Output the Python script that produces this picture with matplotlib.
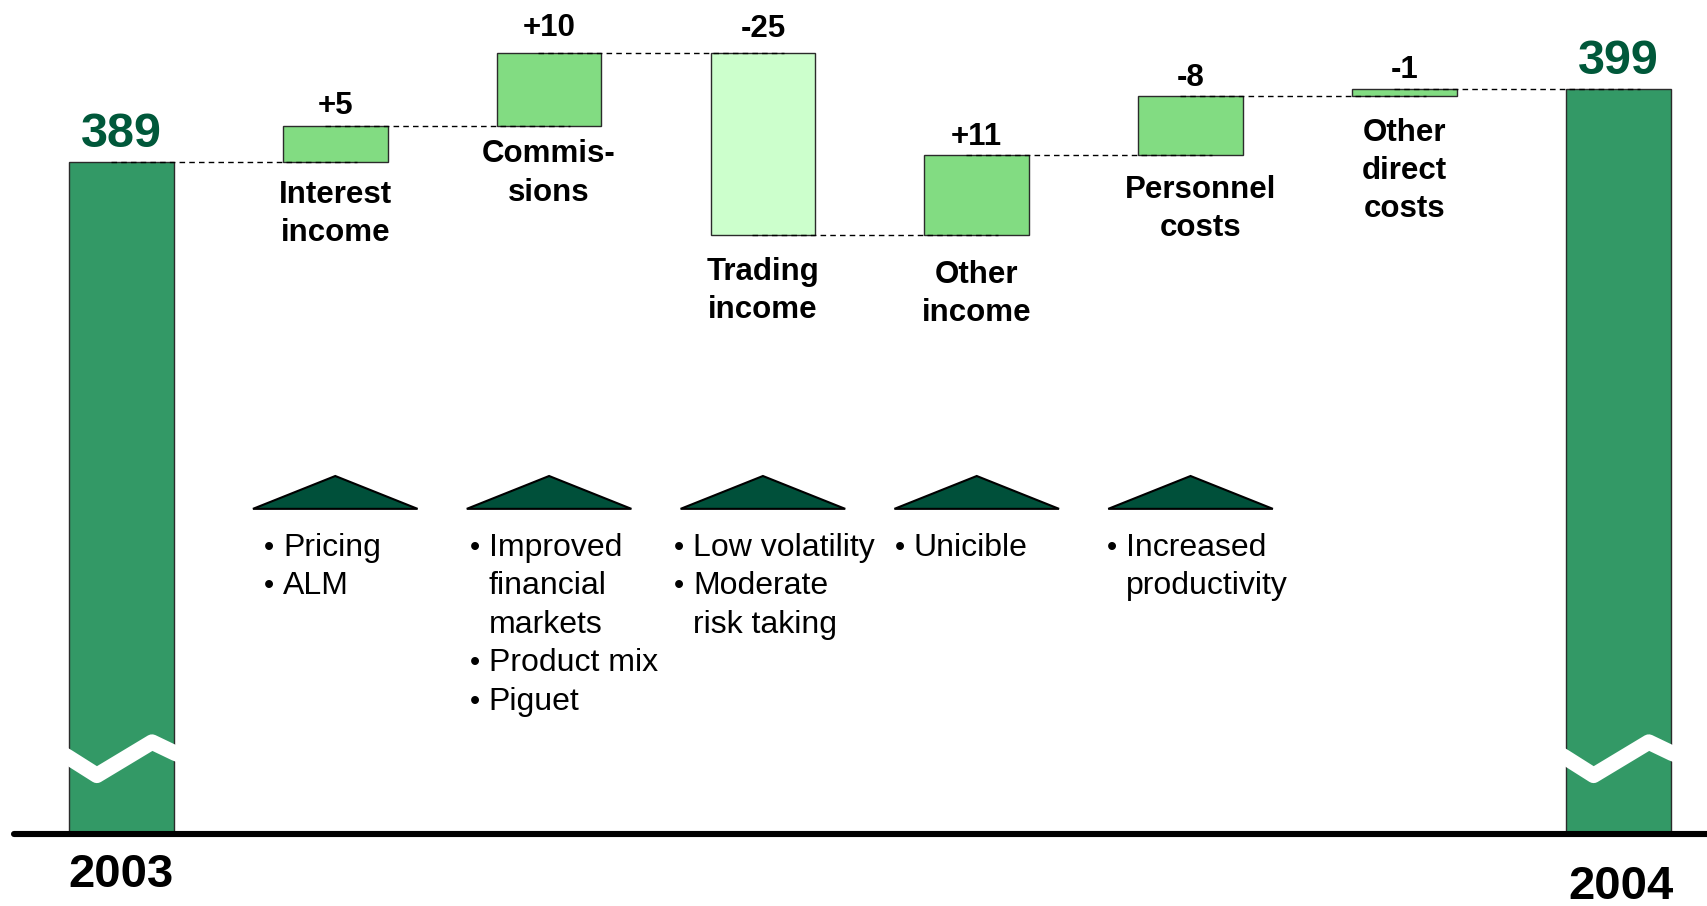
import matplotlib
matplotlib.use('Agg')
import matplotlib.pyplot as plt
from matplotlib.patches import Polygon

# start / end totals
start_label = '2003'
end_label = '2004'
start_value = 389
end_value = 399

# steps of the bridge (effect on the total, as drawn) and their printed labels
steps = ['Interest\nincome', 'Commis-\nsions', 'Trading\nincome',
         'Other\nincome', 'Personnel\ncosts', 'Other\ndirect\ncosts']
step_effect = [5, 10, -25, 11, 8, 1]
step_text = ['+5', '+10', '-25', '+11', '-8', '-1']

# bullet notes under the first five steps (each bullet = list of lines)
notes = [
    [['Pricing'], ['ALM']],
    [['Improved', 'financial', 'markets'], ['Product mix'], ['Piguet']],
    [['Low volatility'], ['Moderate', 'risk taking']],
    [['Unicible']],
    [['Increased', 'productivity']],
]

base = 297  # value where the (broken) axis sits

plt.rcParams['font.family'] = ['Liberation Sans', 'DejaVu Sans']

dark = '#339966'
light = '#82DC82'
pale = '#CCFFCC'
tri_col = '#00503A'
num_col = '#00583A'

fig = plt.figure(figsize=(17.08, 9.06), dpi=100)
ax = fig.add_axes([0, 0, 1, 1])
ax.set_xlim(-0.568, 7.42)
ax.set_ylim(287.1, 411.2)
ax.axis('off')

w = 0.49
n = len(steps)
xs_end = n + 1

# total bars
for x, v in [(0, start_value), (xs_end, end_value)]:
    ax.bar(x, v - base, bottom=base, width=w, color=dark, edgecolor='#2b2b2b',
           linewidth=1, zorder=2)
    ax.annotate(str(v), (x, v), xytext=(0, 20), textcoords='offset points',
                ha='center', va='center', fontsize=35, fontweight='bold',
                color=num_col)
    # break mark
    ax.plot([x - 0.29, x - 0.25, x - 0.115, x + 0.143, x + 0.25, x + 0.29],
            [308.2, 307.5, 305.0, 309.55, 308.05, 307.6], color='white',
            lw=11.2, solid_joinstyle='round', zorder=3)

ax.annotate(start_label, (0, base), xytext=(0, -30), textcoords='offset points',
            ha='center', va='center', fontsize=34, fontweight='bold')
ax.annotate(end_label, (xs_end, base), xytext=(2, -38), textcoords='offset points',
            ha='center', va='center', fontsize=34, fontweight='bold')

# step bars
running = start_value
levels = [running]
label_dx = [0, 0, 0, 0, 7, 0]
label_dy = [-13, -10, -15.5, -18, -14.5, -15.5]
value_dy = [14, 18, 17, 13, 13, 14]
for i, (name, eff, txt) in enumerate(zip(steps, step_effect, step_text)):
    x = i + 1
    lo = min(running, running + eff)
    col = pale if eff < 0 else light
    ax.bar(x, abs(eff), bottom=lo, width=w, color=col, edgecolor='#2b2b2b',
           linewidth=1, zorder=2)
    ax.annotate(txt, (x, lo + abs(eff)), xytext=(0, value_dy[i]),
                textcoords='offset points', ha='center', va='center',
                fontsize=22.5, fontweight='bold')
    ax.annotate(name, (x, lo), xytext=(label_dx[i], label_dy[i]),
                textcoords='offset points', ha='center', va='top',
                fontsize=22.5, fontweight='bold', linespacing=1.36)
    running += eff
    levels.append(running)

# dashed connectors
for i, lev in enumerate(levels):
    ax.plot([i - 0.05, i + 1.1], [lev, lev], color='black', lw=1,
            dashes=(4, 3), zorder=4)

# axis line
ax.plot([-0.503, 7.6], [base, base], color='black', lw=4.4,
        solid_capstyle='round', zorder=5)

# triangles and bullet notes
tri_base = 341.5
tri_top = 346.0
note_top = 336.2
line_step = 5.28
bullet_dx = [-0.311, -0.348, -0.391, -0.36, -0.367]
for j, items in enumerate(notes):
    x = j + 1
    ax.add_patch(Polygon([[x - 0.385, tri_base], [x, tri_top], [x + 0.385, tri_base]],
                         closed=True, facecolor=tri_col, edgecolor='black',
                         linewidth=1.5, zorder=3))
    k = 0
    bx = x + bullet_dx[j]
    for item in items:
        ax.text(bx, note_top - k * line_step, '\u2022', ha='center', va='center',
                fontsize=21)
        for line in item:
            ax.text(bx + 0.066, note_top - k * line_step, line, ha='left',
                    va='center', fontsize=23)
            k += 1

fig.savefig('out.png', dpi=100)
